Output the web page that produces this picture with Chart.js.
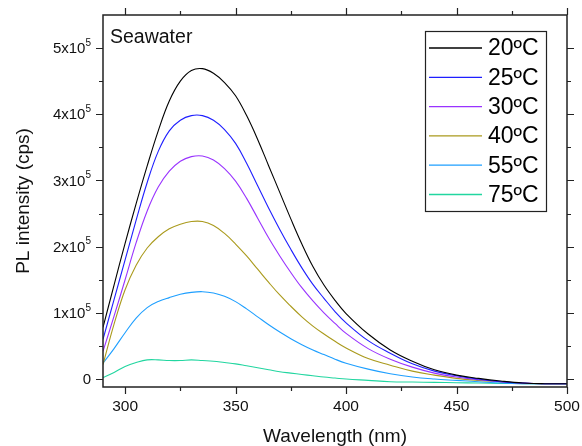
<!DOCTYPE html>
<html>
<head>
<meta charset="utf-8">
<script src="https://cdn.jsdelivr.net/npm/chart.js@4.4.1/dist/chart.umd.min.js"></script>
<style>
  html, body { margin: 0; padding: 0; background: #fff; }
  #wrap { width: 582px; height: 446px; }
</style>
</head>
<body>
<div id="wrap"><canvas id="grafPL"></canvas></div>
<script>
// wavelength (nm) and PL intensity (cps)
var wavelengths = [290, 295, 300, 305, 310, 315, 320, 325, 330, 335, 340, 345, 350, 355, 360, 365, 370, 375, 380, 385, 390, 395, 400,
                   410, 420, 430, 440, 450, 460, 470, 480, 490, 500];

var pl20 = [78000, 142000, 205000, 265000, 322000, 375000, 420000, 450000, 466000, 469000, 462000, 448000, 428000, 398000, 362000, 322000, 282000, 242000, 204000, 170000, 142000, 119000, 99000,
            68000, 44000, 27000, 14000, 6000, 1000, -3000, -6000, -7000, -7000];
var pl25 = [60000, 120000, 180000, 240000, 297000, 344000, 375000, 391000, 398000, 398000, 391000, 377000, 356000, 326000, 292000, 258000, 226000, 196000, 168000, 143000, 122000, 102000, 85000,
            58000, 39000, 23000, 12000, 5000, 0, -4000, -6000, -7000, -7000];
var pl30 = [42000, 95000, 150000, 206000, 254000, 290000, 314000, 329000, 336000, 337000, 331000, 318000, 299000, 273000, 243000, 213000, 186000, 161000, 138000, 118000, 100000, 84000, 69000,
            46000, 30000, 18000, 9000, 3000, -1000, -4000, -6000, -7000, -7000];
var pl40 = [22000, 83000, 135000, 172000, 198000, 215000, 227000, 234000, 238000, 238000, 232000, 220000, 204000, 186000, 166000, 146000, 127000, 110000, 94000, 80000, 68000, 57000, 47000,
            31000, 21000, 12000, 6000, 1000, -2000, -4000, -6000, -7000, -7000];
var pl55 = [24000, 46000, 70000, 92000, 108000, 117000, 123000, 128000, 131000, 132000, 130000, 125000, 117000, 106000, 94000, 82000, 71000, 61000, 52000, 44000, 37000, 30000, 24000,
            15000, 8000, 3000, 0, -2000, -4000, -6000, -7000, -7000, -7000];
var pl75 = [2000, 10000, 19000, 25000, 29000, 29000, 28000, 28000, 29000, 28000, 27000, 25000, 23000, 20000, 17000, 14000, 11000, 9000, 7000, 5000, 3000, 1500, 0,
            -2000, -4000, -4500, -5000, -5500, -6000, -6500, -7000, -7000, -7000];

var seriesNames = ["20ºC", "25ºC", "30ºC", "40ºC", "55ºC", "75ºC"];
var seriesColors = ["#000000", "#1f1fff", "#9933ff", "#aa9a1c", "#1e9fff", "#22d6a0"];
var seriesValues = [pl20, pl25, pl30, pl40, pl55, pl75];

var xMajor = [300, 350, 400, 450, 500];
var xMinor = [325, 375, 425, 475];
var yMajor = [0, 100000, 200000, 300000, 400000, 500000];
var yMinor = [50000, 150000, 250000, 350000, 450000];
var yMantissa = ["0", "1", "2", "3", "4", "5"];

function pontos(vals) {
  var p = [];
  for (var i = 0; i < wavelengths.length; i++) {
    p.push({x: wavelengths[i], y: vals[i]});
  }
  return p;
}

var conjuntos = [];
for (var k = 0; k < seriesNames.length; k++) {
  conjuntos.push({
    label: seriesNames[k],
    data: pontos(seriesValues[k]),
    borderColor: seriesColors[k],
    borderWidth: 1.1,
    pointRadius: 0,
    tension: 0.4,
    fill: false
  });
}

var FONT = '"Liberation Sans", Arial, sans-serif';

// frame, ticks, labels and the legend box
var moldura = {
  id: 'moldura',
  afterDraw: function(chart) {
    var c = chart.ctx;
    var a = chart.chartArea;
    var sx = chart.scales.x, sy = chart.scales.y;
    var i, px, py;
    c.save();
    c.strokeStyle = '#222';
    c.lineWidth = 1.5;
    c.strokeRect(a.left, a.top, a.right - a.left, a.bottom - a.top);

    c.lineWidth = 1.2;
    c.beginPath();
    for (i = 0; i < xMajor.length; i++) {
      px = Math.round(sx.getPixelForValue(xMajor[i])) + 0.5;
      c.moveTo(px, a.bottom); c.lineTo(px, a.bottom + 7);
      c.moveTo(px, a.top); c.lineTo(px, a.top - 7);
    }
    for (i = 0; i < xMinor.length; i++) {
      px = Math.round(sx.getPixelForValue(xMinor[i])) + 0.5;
      c.moveTo(px, a.bottom); c.lineTo(px, a.bottom + 4);
      c.moveTo(px, a.top); c.lineTo(px, a.top - 4);
    }
    for (i = 0; i < yMajor.length; i++) {
      py = Math.round(sy.getPixelForValue(yMajor[i])) + 0.5;
      c.moveTo(a.left, py); c.lineTo(a.left - 7, py);
      c.moveTo(a.right, py); c.lineTo(a.right + 7, py);
    }
    for (i = 0; i < yMinor.length; i++) {
      py = Math.round(sy.getPixelForValue(yMinor[i])) + 0.5;
      c.moveTo(a.left, py); c.lineTo(a.left - 4, py);
      c.moveTo(a.right, py); c.lineTo(a.right + 4, py);
    }
    c.stroke();

    c.fillStyle = '#111';
    c.font = '15.5px ' + FONT;
    c.textAlign = 'center';
    c.textBaseline = 'top';
    for (i = 0; i < xMajor.length; i++) {
      c.fillText(String(xMajor[i]), sx.getPixelForValue(xMajor[i]), a.bottom + 12);
    }

    // y labels like 5x10^5
    c.textBaseline = 'middle';
    for (i = 0; i < yMajor.length; i++) {
      py = sy.getPixelForValue(yMajor[i]);
      var right = a.left - 12;
      if (yMajor[i] === 0) {
        c.font = '15px ' + FONT;
        c.textAlign = 'right';
        c.fillText('0', right, py + 1);
      } else {
        c.font = '10px ' + FONT;
        c.textAlign = 'right';
        c.fillText('5', right, py - 5);
        var w = c.measureText('5').width;
        c.font = '15px ' + FONT;
        c.fillText(yMantissa[i] + 'x10', right - w, py + 1);
      }
    }

    c.font = '19px ' + FONT;
    c.textAlign = 'center';
    c.textBaseline = 'alphabetic';
    c.fillText('Wavelength (nm)', (a.left + a.right) / 2, 442);
    c.save();
    c.translate(29, (a.top + a.bottom) / 2);
    c.rotate(-Math.PI / 2);
    c.fillText('PL intensity (cps)', 0, 0);
    c.restore();

    c.font = '19.5px ' + FONT;
    c.textAlign = 'left';
    c.fillText('Seawater', a.left + 7, 43);

    // legend
    var lx = 425, ly = 31, lw = 121, lh = 180;
    c.fillStyle = '#fff';
    c.fillRect(lx, ly, lw, lh);
    c.strokeStyle = '#222';
    c.lineWidth = 1.2;
    c.strokeRect(lx + 0.5, ly + 0.5, lw, lh);
    c.font = '23px ' + FONT;
    c.textBaseline = 'middle';
    for (i = 0; i < chart.data.datasets.length; i++) {
      var ds = chart.data.datasets[i];
      var yy = 48 + i * 29.3;
      c.strokeStyle = ds.borderColor;
      c.lineWidth = 1.3;
      c.beginPath();
      c.moveTo(429, yy); c.lineTo(482, yy);
      c.stroke();
      c.fillStyle = '#000';
      c.fillText(ds.label, 488, yy + 1);
    }
    c.restore();
  }
};

var ctx = document.getElementById('grafPL').getContext('2d');
var grafico = new Chart(ctx, {
  type: 'line',
  data: { datasets: conjuntos },
  options: {
    responsive: true,
    maintainAspectRatio: false,
    animation: false,
    layout: { padding: { left: 103, right: 15, top: 15, bottom: 59 } },
    plugins: { legend: { display: false }, tooltip: { enabled: false } },
    scales: {
      x: { type: 'linear', min: 290, max: 500, display: false },
      y: { type: 'linear', min: -12000, max: 550000, display: false }
    }
  },
  plugins: [moldura]
});
</script>
</body>
</html>
